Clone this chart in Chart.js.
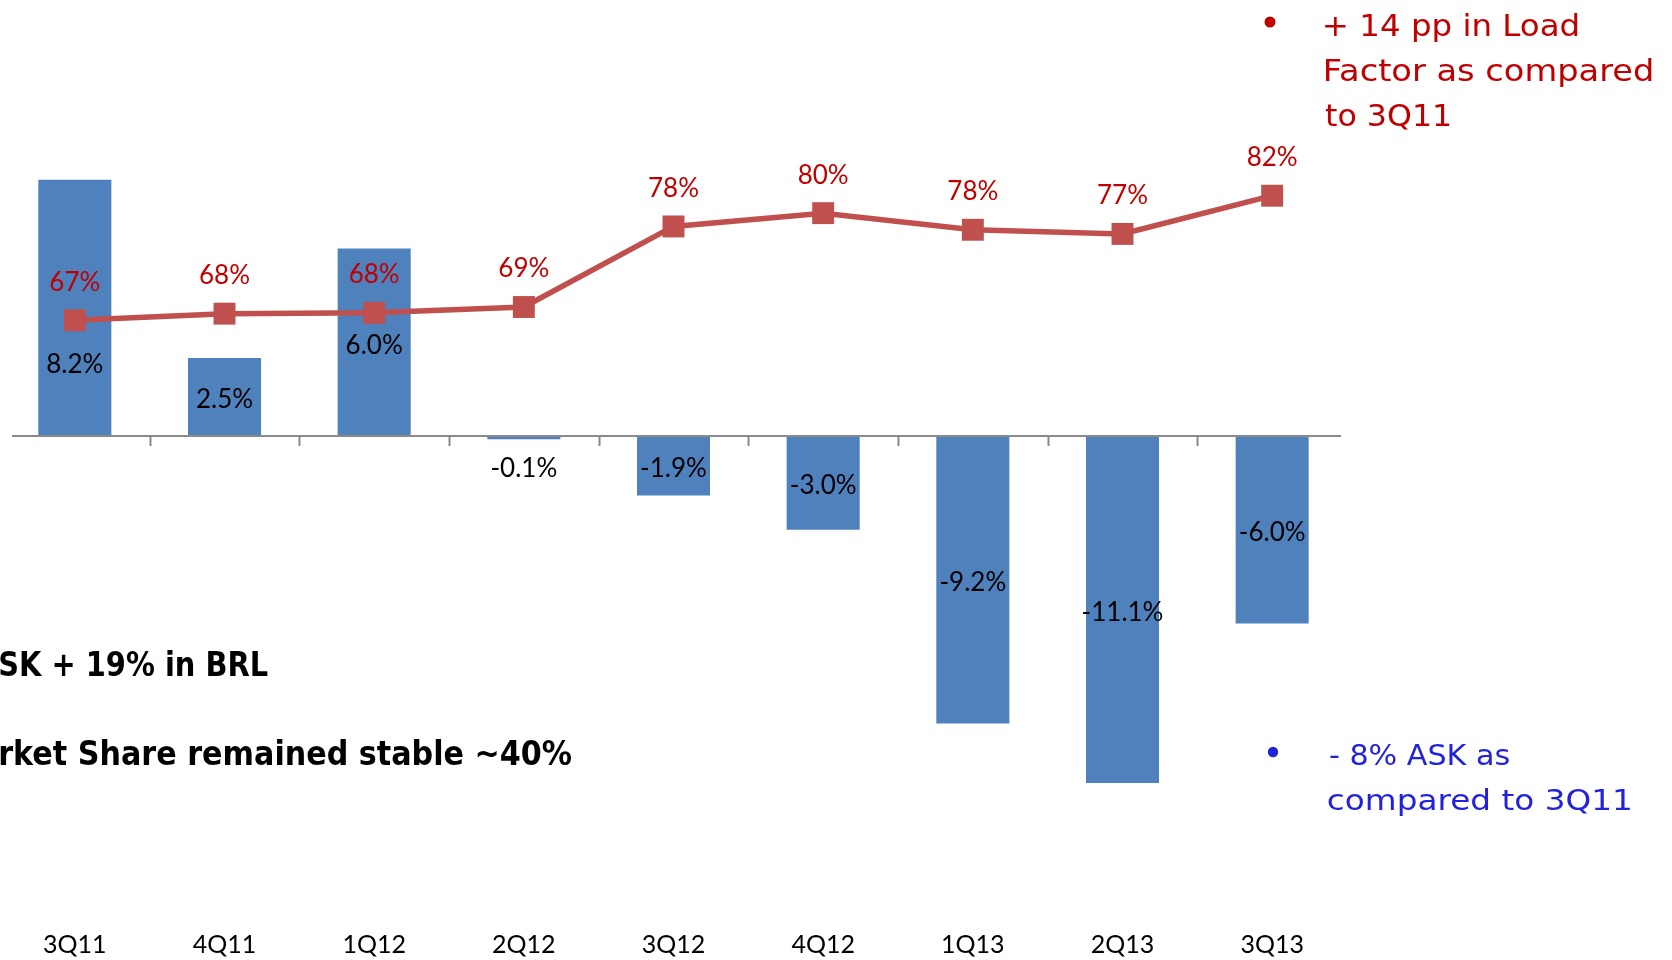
<!DOCTYPE html>
<html>
<head>
<meta charset="utf-8">
<script src="https://cdn.jsdelivr.net/npm/chart.js@4.4.1/dist/chart.umd.min.js"></script>
<style>
  html, body { margin: 0; padding: 0; background: #ffffff; }
  #wrap { position: relative; width: 1672px; height: 960px; overflow: hidden; }
  canvas { display: block; }
</style>
</head>
<body>
<div id="wrap"><canvas id="c" width="1672" height="960"></canvas></div>
<script>
// ---- Data ----
const quarters = ['3Q11', '4Q11', '1Q12', '2Q12', '3Q12', '4Q12', '1Q13', '2Q13', '3Q13'];
const askGrowth = [8.2, 2.5, 6.0, -0.1, -1.9, -3.0, -9.2, -11.1, -6.0];      // % (bars)
const loadFactor = [67.0, 67.8, 67.9, 68.6, 78.3, 79.9, 77.9, 77.4, 82.0];  // % (line)

// ---- Text annotations (layout) ----
const notes = [
  { text: '+ 14 pp in Load', x: 1325, y: 36, w: 253, font: '30px "DejaVu Sans"', color: '#C00000' },
  { text: 'Factor as compared', x: 1325, y: 81, w: 327, font: '30px "DejaVu Sans"', color: '#C00000' },
  { text: 'to 3Q11', x: 1325, y: 126, w: 125, font: '30px "DejaVu Sans"', color: '#C00000' },
  { text: '- 8% ASK as', x: 1330, y: 765, w: 179, font: '29px "DejaVu Sans"', color: '#2222DD' },
  { text: 'compared to 3Q11', x: 1328, y: 810, w: 302, font: '29px "DejaVu Sans"', color: '#2222DD' },
  { text: 'SK + 19% in BRL', x: 0, y: 676, w: 268, font: 'bold 33px "DejaVu Sans"', color: '#000000' },
  { text: 'rket Share remained stable ~40%', x: 0, y: 765, w: 572, font: 'bold 33px "DejaVu Sans"', color: '#000000' }
];
const bullets = [
  { x: 1270, y: 22, r: 5.5, color: '#C00000' },
  { x: 1273, y: 752, r: 5.2, color: '#2222DD' }
];

function fitText(ctx, n) {
  ctx.save();
  ctx.font = n.font;
  ctx.fillStyle = n.color;
  ctx.textAlign = 'left';
  ctx.textBaseline = 'alphabetic';
  const m = ctx.measureText(n.text);
  const ink = m.actualBoundingBoxRight + m.actualBoundingBoxLeft;
  const sx = n.w / (ink || m.width);
  ctx.translate(n.x, n.y);
  ctx.scale(sx, 1);
  ctx.fillText(n.text, m.actualBoundingBoxLeft || 0, 0);
  ctx.restore();
}

const decor = {
  id: 'decor',
  afterDatasetsDraw(chart, args, opts) {
    const ctx = chart.ctx;
    const xs = chart.scales.x;
    const ys = chart.scales.y;
    const y0 = ys.getPixelForValue(0);
    // zero axis line
    ctx.save();
    ctx.strokeStyle = '#8A8A8A';
    ctx.lineWidth = 2;
    ctx.beginPath();
    ctx.moveTo(12, y0);
    ctx.lineTo(1341, y0);
    ctx.stroke();
    // tick marks between categories
    for (let i = 0; i < quarters.length - 1; i++) {
      const xm = (xs.getPixelForValue(i) + xs.getPixelForValue(i + 1)) / 2;
      ctx.beginPath();
      ctx.moveTo(Math.round(xm) + 0.5, y0);
      ctx.lineTo(Math.round(xm) + 0.5, y0 + 10);
      ctx.stroke();
    }
    ctx.restore();
  },
  afterDraw(chart, args, opts) {
    const ctx = chart.ctx;
    // bar labels
    const barMeta = chart.getDatasetMeta(1);
    ctx.save();
    ctx.font = '26px Lato';
    ctx.textAlign = 'center';
    ctx.textBaseline = 'middle';
    ctx.fillStyle = '#000000';
    barMeta.data.forEach((el, i) => {
      const v = askGrowth[i];
      let y = (el.y + el.base) / 2 + 3;
      if (Math.abs(el.base - el.y) < 20) y = Math.max(el.y, el.base) + 29;
      y += (opts.barShift[i] || 0);
      ctx.fillText(v.toFixed(1) + '%', el.x, y);
    });
    // line labels
    const lineMeta = chart.getDatasetMeta(0);
    ctx.fillStyle = '#C00000';
    lineMeta.data.forEach((el, i) => {
      ctx.fillText(Math.round(loadFactor[i]) + '%', el.x, el.y - 38);
    });
    ctx.restore();
    // bullets and notes
    bullets.forEach(b => {
      ctx.save();
      ctx.fillStyle = b.color;
      ctx.beginPath();
      ctx.arc(b.x, b.y, b.r, 0, Math.PI * 2);
      ctx.fill();
      ctx.restore();
    });
    notes.forEach(n => fitText(ctx, n));
  }
};

new Chart(document.getElementById('c'), {
  type: 'bar',
  data: {
    labels: quarters,
    datasets: [
      {
        type: 'line',
        label: 'Load Factor',
        data: loadFactor,
        yAxisID: 'y2',
        borderColor: '#C0504D',
        backgroundColor: '#C0504D',
        borderWidth: 5.5,
        tension: 0,
        pointStyle: 'rect',
        pointRadius: 15.5,
        pointHoverRadius: 15.5,
        pointBorderWidth: 0,
        pointBackgroundColor: '#C0504D',
        clip: false,
        order: 0
      },
      {
        type: 'bar',
        label: 'ASK',
        data: askGrowth,
        yAxisID: 'y',
        backgroundColor: '#4F81BD',
        borderWidth: 0,
        barPercentage: 0.488,
        categoryPercentage: 1.0,
        order: 1
      }
    ]
  },
  options: {
    responsive: false,
    animation: false,
    events: [],
    layout: { autoPadding: false, padding: { left: 0, right: 325, top: 0, bottom: 0 } },
    plugins: {
      legend: { display: false },
      tooltip: { enabled: false },
      decor: { barShift: { 0: 54 } }
    },
    scales: {
      x: {
        offset: true,
        grid: { display: false, drawTicks: false },
        border: { display: false },
        ticks: {
          color: '#000000',
          font: { family: 'Lato', size: 25, lineHeight: 1 },
          padding: 3,
          maxRotation: 0,
          autoSkip: false
        }
      },
      y: {
        type: 'linear',
        display: false,
        min: -15.776,
        max: 13.952
      },
      y2: {
        type: 'linear',
        display: false,
        min: -6.28,
        max: 105.56
      }
    }
  },
  plugins: [decor]
});
</script>
</body>
</html>
